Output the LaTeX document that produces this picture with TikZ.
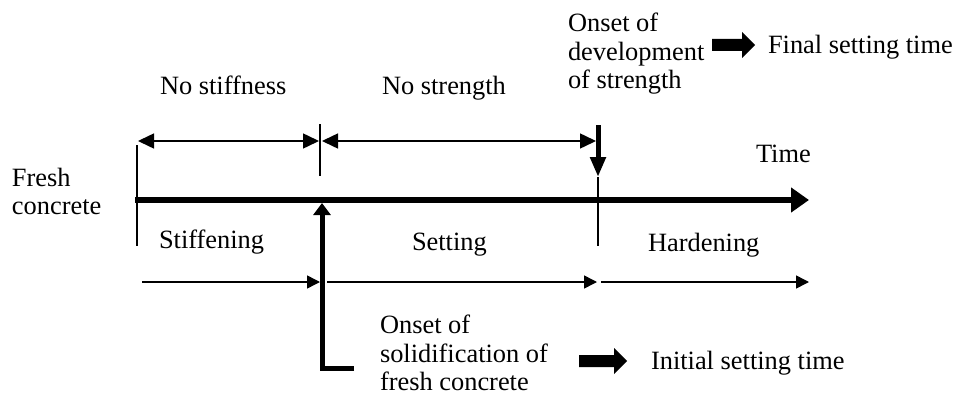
\documentclass[tikz,border=0pt]{standalone}
\usepackage{fontspec}
\setmainfont{Liberation Serif}
\usetikzlibrary{arrows.meta}
\newcommand\labfont{\fontsize{26.4}{28.5}\selectfont}
\tikzset{
  lab/.style={inner sep=0pt, outer sep=0pt, font=\labfont, anchor=base west},
  blk/.style={inner sep=0pt, outer sep=0pt, font=\labfont, anchor=north west, align=left},
  thin/.style={line width=1.5pt},
  dim/.style={thin, {Triangle[length=16pt,width=15pt]}-{Triangle[length=16pt,width=15pt]}},
  flow/.style={thin, -{Triangle[length=13pt,width=13pt]}},
  fat/.style={fill=black, draw=none}
}
\begin{document}
\begin{tikzpicture}[x=1pt,y=-1pt]
\useasboundingbox (0,0) rectangle (968,396);
% coordinates
\coordinate (axL) at (135,200);
\coordinate (axR) at (809,200);
\coordinate (t0top) at (137,145);
\coordinate (t0bot) at (137,246);
\coordinate (t1top) at (320,124);
\coordinate (t1bot) at (320,176);
\coordinate (d1a) at (138,141);
\coordinate (d1b) at (319,141);
\coordinate (d2a) at (322,141);
\coordinate (d2b) at (596,141);
\coordinate (fsTop) at (598,125);
\coordinate (fsTip) at (598,177);
\coordinate (t2bot) at (598,246);
\coordinate (isFoot) at (354,368);
\coordinate (isCorner) at (322,368);
\coordinate (isTip) at (322,203);
\coordinate (b1a) at (142,282);
\coordinate (b1b) at (320,282);
\coordinate (b2a) at (327,282);
\coordinate (b2b) at (597,282);
\coordinate (b3a) at (601,282);
\coordinate (b3b) at (809,282);

% texts
\node[blk] (fresh) at (12,168) {Fresh\\concrete};
\node[lab] (nostiff) at (160,94) {No stiffness};
\node[lab] (nostr) at (382,94) {No strength};
\node[blk] (onsetdev) at (568,13) {Onset of\\development\\of strength};
\node[lab] (final) at (768,53) {Final setting time};
\node[lab] (time) at (756,162) {Time};
\node[lab] (stiff) at (159,248) {Stiffening};
\node[lab] (setting) at (412,250) {Setting};
\node[lab] (hard) at (648,251) {Hardening};
\node[blk] (onsetsol) at (380,315) {Onset of\\solidification of\\fresh concrete};
\node[lab] (initial) at (651,369) {Initial setting time};

% axis
\draw[line width=6pt, -{Triangle[length=18pt,width=24pt]}] (axL) -- (axR);
\draw[thin] (t0top) -- (t0bot);
\draw[thin] (t1top) -- (t1bot);
\draw[dim] (d1a) -- (d1b);
\draw[dim] (d2a) -- (d2b);
\draw[line width=5pt, -{Triangle[length=20pt,width=15pt]}] (fsTop) -- (fsTip);
\draw[thin] (fsTip) -- (t2bot);
\draw[line width=5pt, line join=miter, -{Triangle[length=12pt,width=17pt]}] (isFoot) -- (isCorner) -- (isTip);
\draw[flow] (b1a) -- (b1b);
\draw[flow] (b2a) -- (b2b);
\draw[flow] (b3a) -- (b3b);

% fat arrows
\fill[fat] (712,39) -- (742,39) -- (742,32) -- (755,45) -- (742,58) -- (742,51) -- (712,51) -- cycle;
\fill[fat] (579,355) -- (614,355) -- (614,348) -- (627,361) -- (614,374) -- (614,367) -- (579,367) -- cycle;
\end{tikzpicture}
\end{document}
